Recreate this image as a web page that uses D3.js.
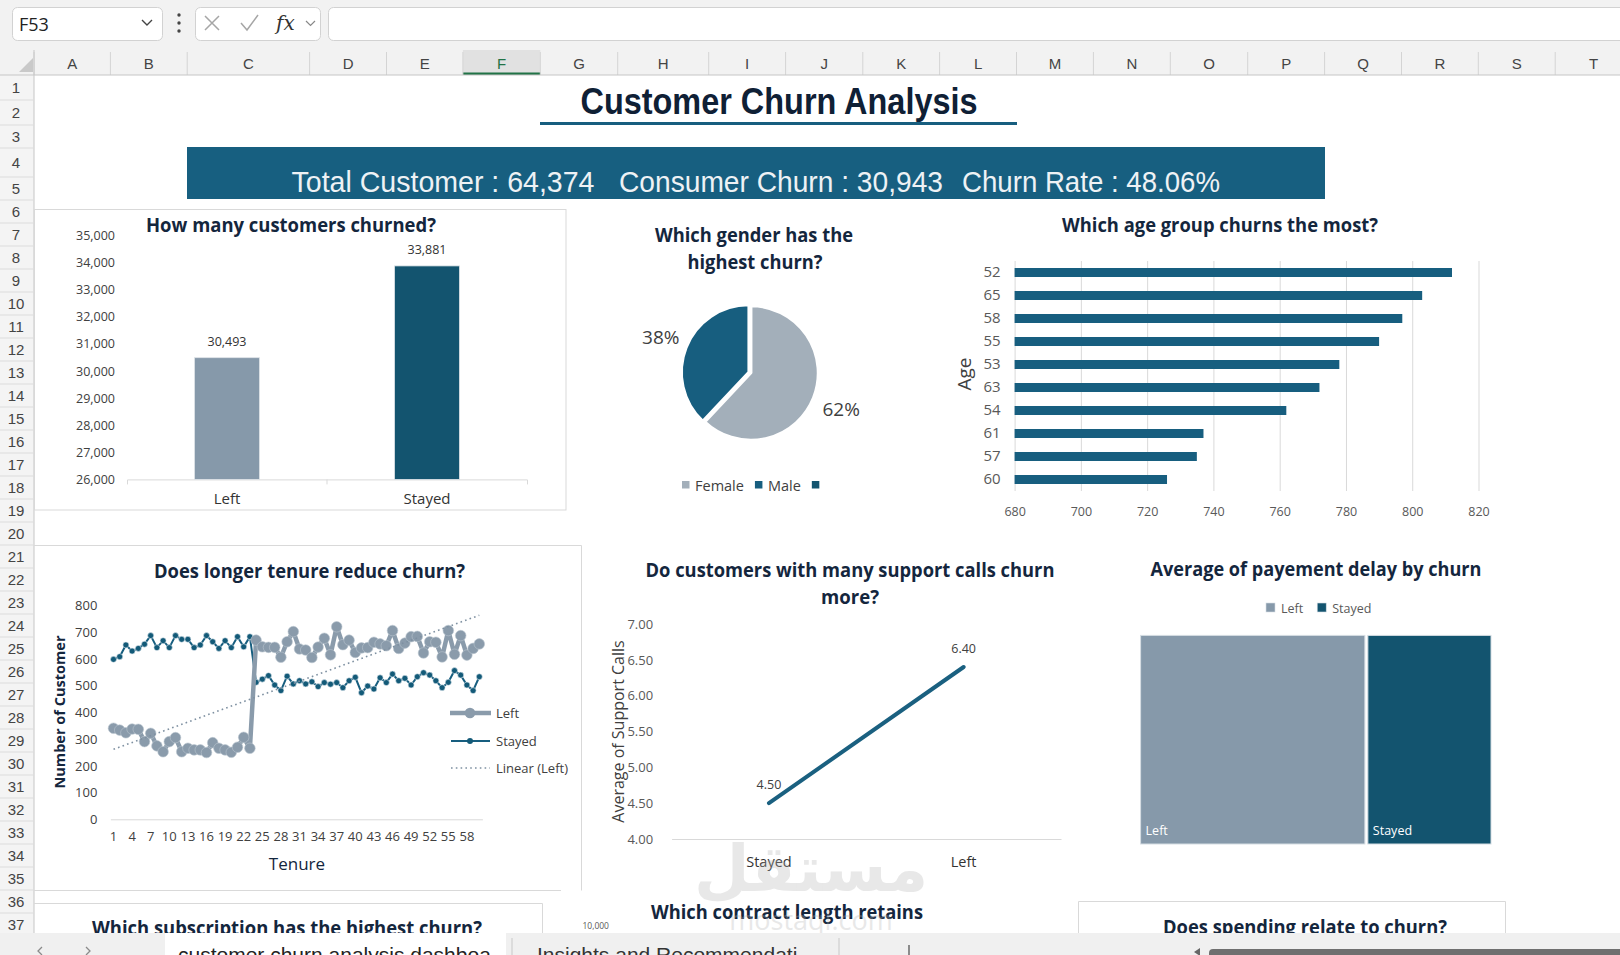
<!DOCTYPE html>
<html>
<head>
<meta charset="utf-8">
<script src="https://cdn.jsdelivr.net/npm/d3@7"></script>
<style>
  body { margin: 0; background: #fff; overflow: hidden; }
  svg { display: block; }
</style>
</head>
<body>
<svg id="sheet" width="1620" height="955"></svg>
<script>
// ---- data ----
const columnLetters = ["A","B","C","D","E","F","G","H","I","J","K","L","M","N","O","P","Q","R","S","T"];
const kpiLabels = ["Total Customer", "Consumer Churn", "Churn Rate"];
const kpiValues = ["64,374", "30,943", "48.06%"];

const churnCats = ["Left", "Stayed"];
const churnCounts = [30493, 33881];
const churnTicks = [26000, 27000, 28000, 29000, 30000, 31000, 32000, 33000, 34000, 35000];

const genderCats = ["Female", "Male", ""];
const genderShares = [62, 38, 0];

const ageGroups = ["52", "65", "58", "55", "53", "63", "54", "61", "57", "60"];
const ageChurn = [812, 803, 797, 790, 778, 772, 762, 737, 735, 726];
const ageTicks = [680, 700, 720, 740, 760, 780, 800, 820];

const tenure = [1,2,3,4,5,6,7,8,9,10,11,12,13,14,15,16,17,18,19,20,21,22,23,24,25,26,27,28,29,30,
  31,32,33,34,35,36,37,38,39,40,41,42,43,44,45,46,47,48,49,50,51,52,53,54,55,56,57,58,59,60];
const tenureTicks = [1,4,7,10,13,16,19,22,25,28,31,34,37,40,43,46,49,52,55,58];
const tenureCountTicks = [0,100,200,300,400,500,600,700,800];
const tenureLeft = [341,334,324,338,337,291,322,275,253,291,306,253,266,260,260,250,287,266,260,251,
  270,307,266,671,646,644,644,607,665,703,638,634,606,645,678,616,721,654,671,625,
  642,643,663,657,650,707,640,660,684,685,623,665,663,608,707,618,688,615,640,657];
const tenureStayed = [599,609,653,630,640,656,688,643,669,643,688,674,674,643,653,688,665,640,669,643,
  684,646,684,513,525,538,503,482,536,507,519,507,515,497,512,506,512,493,519,532,
  474,499,488,530,512,544,519,528,503,534,549,540,519,493,513,557,540,503,482,534];

const supportCats = ["Stayed", "Left"];
const supportCalls = [4.50, 6.40];
const supportTicks = [4.0, 4.5, 5.0, 5.5, 6.0, 6.5, 7.0];

const delayCats = ["Left", "Stayed"];
const delayAvg = [20.9, 11.6];

// ---- look ----
const navy = "#14263d";
const gray = "#8699aa";
const teal = "#175e7f";
const darkTeal = "#13546f";
const chartFont = '"Open Sans", sans-serif';
const narrowFont = '"Liberation Sans Narrow", "Liberation Sans", sans-serif';

const svg = d3.select("#sheet");
svg.append("rect").attr("width", 1620).attr("height", 955).attr("fill", "#fff");

function title(g, txt, cx, cy, len) {
  g.append("text")
    .attr("x", cx).attr("y", cy)
    .attr("text-anchor", "middle").attr("dominant-baseline", "central")
    .attr("font-family", chartFont).attr("font-weight", 700).attr("font-size", 19)
    .attr("fill", navy)
    .attr("textLength", len).attr("lengthAdjust", "spacingAndGlyphs")
    .text(txt);
}
function styleAxis(g, size, color) {
  g.attr("font-family", chartFont).attr("font-size", size);
  g.selectAll("text").attr("fill", color);
}

// ---- excel chrome: formula bar, headers ----
const colEdges = [34,110.4,187.2,309.6,386.5,462.9,540.3,617.7,708.7,785.6,862.8,939.6,1016.5,
  1093.4,1170.3,1247.7,1324.6,1401.5,1478.3,1555.2,1632];
const rowTops = [];
let ry = 75;
for (let i = 0; i < 38; i++) { rowTops.push(ry); ry += [25,25,23,29,23][i] || 23; }

const chrome = svg.append("g");
chrome.append("rect").attr("width", 1620).attr("height", 75).attr("fill", "#f2f2f2");
chrome.append("rect").attr("y", 75).attr("width", 34).attr("height", 880).attr("fill", "#f4f4f4");

// name box
chrome.append("rect").attr("x", 12.5).attr("y", 7.5).attr("width", 150).attr("height", 33).attr("rx", 5)
  .attr("fill", "#fff").attr("stroke", "#d2d2d2");
chrome.append("text").attr("x", 19).attr("y", 31).attr("font-family", '"Open Sans", sans-serif')
  .attr("font-size", 18).attr("fill", "#222").text("F53");
chrome.append("path").attr("d", "M142,20 l5,5 l5,-5").attr("fill", "none").attr("stroke", "#444").attr("stroke-width", 1.4);
[15, 23, 31].forEach(cy => chrome.append("circle").attr("cx", 179).attr("cy", cy).attr("r", 1.7).attr("fill", "#444"));
// cancel / enter / fx
chrome.append("rect").attr("x", 195.5).attr("y", 7.5).attr("width", 125).attr("height", 33).attr("rx", 5)
  .attr("fill", "#fff").attr("stroke", "#d2d2d2");
chrome.append("path").attr("d", "M205,16 L219,30 M219,16 L205,30").attr("stroke", "#a6a6a6").attr("stroke-width", 1.5);
chrome.append("path").attr("d", "M241,23 L247,30 L258,15").attr("fill", "none").attr("stroke", "#a6a6a6").attr("stroke-width", 1.5);
chrome.append("text").attr("x", 276).attr("y", 30).attr("font-family", '"DejaVu Serif", serif')
  .attr("font-style", "italic").attr("font-size", 20).attr("fill", "#333").text("fx");
chrome.append("path").attr("d", "M306,21 l4.5,4.5 l4.5,-4.5").attr("fill", "none").attr("stroke", "#888").attr("stroke-width", 1.2);
chrome.append("rect").attr("x", 328.5).attr("y", 7.5).attr("width", 1320).attr("height", 33).attr("rx", 5)
  .attr("fill", "#fff").attr("stroke", "#d2d2d2");

// column headers
chrome.append("rect").attr("x", colEdges[5]).attr("y", 50).attr("width", colEdges[6] - colEdges[5]).attr("height", 25)
  .attr("fill", "#e1e1e1");
chrome.append("rect").attr("x", colEdges[5]).attr("y", 72.5).attr("width", colEdges[6] - colEdges[5]).attr("height", 2.5)
  .attr("fill", "#217346");
chrome.append("path").attr("d", "M33,58 L33,72 L19,72 Z").attr("fill", "#c9c9c9");
columnLetters.forEach((c, i) => {
  chrome.append("line").attr("x1", colEdges[i]).attr("x2", colEdges[i]).attr("y1", 52).attr("y2", 75)
    .attr("stroke", "#d4d4d4");
  chrome.append("text").attr("x", (colEdges[i] + colEdges[i + 1]) / 2).attr("y", 63)
    .attr("text-anchor", "middle").attr("dominant-baseline", "central")
    .attr("font-family", narrowFont).attr("font-size", 15)
    .attr("fill", i === 5 ? "#217346" : "#444").text(c);
});
chrome.append("line").attr("x1", 0).attr("x2", 1620).attr("y1", 75).attr("y2", 75).attr("stroke", "#c6c6c6");
chrome.append("line").attr("x1", 34).attr("x2", 34).attr("y1", 50).attr("y2", 955).attr("stroke", "#c6c6c6");
// row headers
for (let r = 0; r < 37; r++) {
  chrome.append("line").attr("x1", 0).attr("x2", 34).attr("y1", rowTops[r + 1]).attr("y2", rowTops[r + 1])
    .attr("stroke", "#dcdcdc");
  chrome.append("text").attr("x", 16).attr("y", (rowTops[r] + rowTops[r + 1]) / 2)
    .attr("text-anchor", "middle").attr("dominant-baseline", "central")
    .attr("font-family", narrowFont).attr("font-size", 15).attr("fill", "#444").text(r + 1);
}

// ---- heading + KPI banner ----
const head = svg.append("g");
head.append("text").attr("x", 779).attr("y", 101)
  .attr("text-anchor", "middle").attr("dominant-baseline", "central")
  .attr("font-family", narrowFont).attr("font-weight", 700).attr("font-size", 37).attr("fill", "#0f2035")
  .attr("textLength", 397).attr("lengthAdjust", "spacingAndGlyphs")
  .text("Customer Churn Analysis");
head.append("rect").attr("x", 540).attr("y", 122).attr("width", 477).attr("height", 3).attr("fill", teal);
head.append("rect").attr("x", 187).attr("y", 147).attr("width", 1138).attr("height", 52).attr("fill", "#175f80");
const kpiX = [291.5, 619, 962];
const kpiW = [303, 324, 258];
kpiLabels.forEach((k, i) => {
  head.append("text").attr("x", kpiX[i]).attr("y", 181)
    .attr("dominant-baseline", "central")
    .attr("font-family", narrowFont).attr("font-size", 30).attr("fill", "#eef2f5")
    .attr("textLength", kpiW[i]).attr("lengthAdjust", "spacingAndGlyphs")
    .text(k + " : " + kpiValues[i]);
});

// ---- chart 1: how many customers churned ----
const g1 = svg.append("g");
g1.append("rect").attr("x", 34.5).attr("y", 209.5).attr("width", 531.5).attr("height", 300.5)
  .attr("fill", "#fff").attr("stroke", "#d9d9d9");
title(g1, "How many customers churned?", 291, 225, 290);
const x1 = d3.scaleBand().domain(churnCats).range([127, 527]);
const y1 = d3.scaleLinear().domain([26000, 35000]).range([479.4, 235.6]);
const ax1 = g1.append("g").attr("transform", "translate(127,0)")
  .call(d3.axisLeft(y1).tickValues(churnTicks).tickFormat(d3.format(",")).tickSize(0).tickPadding(12));
ax1.select(".domain").remove();
styleAxis(ax1, 12.5, "#404040");
const bx1 = g1.append("g").attr("transform", "translate(0,479.4)")
  .call(d3.axisBottom(x1).tickSizeInner(0).tickSizeOuter(5).tickPadding(14));
bx1.select(".domain").attr("stroke", "#d9d9d9");
styleAxis(bx1, 15, "#333");
g1.append("line").attr("x1", x1("Stayed")).attr("x2", x1("Stayed")).attr("y1", 479.4).attr("y2", 484.4)
  .attr("stroke", "#d9d9d9");
g1.selectAll(".bar1").data(churnCats).join("rect")
  .attr("x", d => x1(d) + x1.bandwidth() * 0.3375)
  .attr("width", x1.bandwidth() * 0.325)
  .attr("y", (d, i) => y1(churnCounts[i]))
  .attr("height", (d, i) => y1(26000) - y1(churnCounts[i]))
  .attr("fill", (d, i) => [gray, darkTeal][i])
  .attr("stroke", "#dfe4e8").attr("stroke-width", 0.8);
g1.selectAll(".lab1").data(churnCats).join("text")
  .attr("x", d => x1(d) + x1.bandwidth() / 2)
  .attr("y", (d, i) => y1(churnCounts[i]) - 16)
  .attr("text-anchor", "middle").attr("dominant-baseline", "central")
  .attr("font-family", chartFont).attr("font-size", 12.5).attr("fill", "#333")
  .text((d, i) => d3.format(",")(churnCounts[i]));

// ---- chart 2: gender pie ----
const g2 = svg.append("g");
title(g2, "Which gender has the", 754, 234.5, 198);
title(g2, "highest churn?", 755, 261.5, 135);
const pie = d3.pie().sort(null)(genderShares);
const arc = d3.arc().innerRadius(0).outerRadius(67);
const labelArc = d3.arc().innerRadius(97).outerRadius(97);
const pieG = g2.append("g").attr("transform", "translate(751,373)");
pieG.selectAll("path").data(pie).join("path")
  .attr("d", arc)
  .attr("transform", (d, i) => {
    if (i !== 1) return null;
    const c = arc.centroid(d), n = Math.hypot(c[0], c[1]);
    return `translate(${c[0] / n * 2.5},${c[1] / n * 2.5})`;
  })
  .attr("fill", (d, i) => ["#a3afba", teal, darkTeal][i])
  .attr("stroke", "#fff").attr("stroke-width", 2.5);
pieG.selectAll("text").data(pie.filter(d => d.value > 0)).join("text")
  .attr("x", d => labelArc.centroid(d)[0]).attr("y", d => labelArc.centroid(d)[1])
  .attr("text-anchor", "middle").attr("dominant-baseline", "central")
  .attr("font-family", chartFont).attr("font-size", 19).attr("fill", "#404040")
  .text(d => d.value + "%");
let lx = 682;
genderCats.forEach((c, i) => {
  g2.append("rect").attr("x", lx).attr("y", 481).attr("width", 7.5).attr("height", 7.5)
    .attr("fill", ["#a3afba", teal, darkTeal][i]);
  lx += 13;
  if (c) {
    const t = g2.append("text").attr("x", lx).attr("y", 485)
      .attr("dominant-baseline", "central").attr("font-family", chartFont).attr("font-size", 14.5)
      .attr("fill", "#404040").text(c);
    lx += t.node().getComputedTextLength() + 11;
  }
});

// ---- chart 3: age groups ----
const g3 = svg.append("g");
title(g3, "Which age group churns the most?", 1220, 225, 316);
const xA = d3.scaleLinear().domain([680, 820]).range([1014.6, 1478.5]);
const yA = d3.scaleBand().domain(ageGroups).range([261, 491]);
const gA = g3.append("g").attr("transform", "translate(0,491)")
  .call(d3.axisBottom(xA).tickValues(ageTicks).tickSize(-230));
gA.select(".domain").remove();
gA.selectAll("line").attr("stroke", "#d9d9d9");
styleAxis(gA, 12.5, "#595959");
gA.selectAll("text").attr("y", 20.5).attr("dy", "0.35em");
g3.selectAll(".bar3").data(ageGroups).join("rect")
  .attr("x", xA(680))
  .attr("y", d => yA(d) + (yA.bandwidth() - 9) / 2)
  .attr("width", (d, i) => xA(ageChurn[i]) - xA(680))
  .attr("height", 9)
  .attr("fill", teal);
const lA = g3.append("g").attr("transform", `translate(${xA(680)},0)`)
  .call(d3.axisLeft(yA).tickSize(0).tickPadding(14));
lA.select(".domain").remove();
styleAxis(lA, 15, "#595959");
g3.append("text").attr("transform", "translate(964,374) rotate(-90)")
  .attr("text-anchor", "middle").attr("dominant-baseline", "central")
  .attr("font-family", chartFont).attr("font-size", 19).attr("fill", "#404040").text("Age");

// ---- chart 4: tenure ----
const g4 = svg.append("g");
g4.append("path").attr("d", "M34,545.5 H581.5 V890.5 M34,890.5 H561").attr("fill", "none").attr("stroke", "#d9d9d9");
title(g4, "Does longer tenure reduce churn?", 309.5, 571, 311);
const xT = d3.scaleBand().domain(tenure).range([110.4, 482.4]);
const cx = t => xT(t) + xT.bandwidth() / 2;
const yT = d3.scaleLinear().domain([0, 800]).range([819.3, 605.7]);
const lT = g4.append("g").attr("transform", "translate(110.4,0)")
  .call(d3.axisLeft(yT).tickValues(tenureCountTicks).tickSize(0).tickPadding(13));
lT.select(".domain").remove();
styleAxis(lT, 13, "#404040");
const bT = g4.append("g").attr("transform", "translate(0,819.3)")
  .call(d3.axisBottom(xT).tickValues(tenureTicks).tickSize(0).tickPadding(12.5));
bT.select(".domain").attr("stroke", "#d9d9d9");
styleAxis(bT, 13, "#404040");

const lineT = d3.line().x((d, i) => cx(tenure[i])).y(d => yT(d));
g4.append("path").datum(tenureStayed).attr("d", lineT)
  .attr("fill", "none").attr("stroke", teal).attr("stroke-width", 2);
g4.selectAll(".ms").data(tenureStayed).join("circle")
  .attr("cx", (d, i) => cx(tenure[i])).attr("cy", d => yT(d)).attr("r", 3)
  .attr("fill", "#135a78").attr("stroke", "#dfe8ee").attr("stroke-width", 0.6);
g4.append("path").datum(tenureLeft).attr("d", lineT)
  .attr("fill", "none").attr("stroke", "#8a9bab").attr("stroke-width", 4.5).attr("stroke-linejoin", "round");
g4.selectAll(".ml").data(tenureLeft).join("circle")
  .attr("cx", (d, i) => cx(tenure[i])).attr("cy", d => yT(d)).attr("r", 5.3)
  .attr("fill", "#8a9bab").attr("stroke", "#b8c4ce").attr("stroke-width", 0.6);

// linear trend of the Left series
const n = tenure.length;
const mx = d3.mean(tenure), my = d3.mean(tenureLeft);
const slope = d3.sum(tenure, (t, i) => (t - mx) * (tenureLeft[i] - my)) / d3.sum(tenure, t => (t - mx) * (t - mx));
const icpt = my - slope * mx;
g4.append("line")
  .attr("x1", cx(tenure[0])).attr("y1", yT(icpt + slope * tenure[0]))
  .attr("x2", cx(tenure[n - 1])).attr("y2", yT(icpt + slope * tenure[n - 1]))
  .attr("stroke", "#7e90a1").attr("stroke-width", 1.6).attr("stroke-dasharray", "1.6 3.2");

// legend
const legT = g4.append("g").attr("font-family", chartFont).attr("font-size", 13).attr("fill", "#404040");
legT.append("line").attr("x1", 450).attr("x2", 491).attr("y1", 713).attr("y2", 713).attr("stroke", "#8a9bab").attr("stroke-width", 4.5);
legT.append("circle").attr("cx", 470).attr("cy", 713).attr("r", 5.3).attr("fill", "#8a9bab");
legT.append("text").attr("x", 496).attr("y", 713).attr("dominant-baseline", "central").text("Left");
legT.append("line").attr("x1", 451).attr("x2", 490).attr("y1", 741).attr("y2", 741).attr("stroke", teal).attr("stroke-width", 2);
legT.append("circle").attr("cx", 470).attr("cy", 741).attr("r", 3).attr("fill", "#135a78");
legT.append("text").attr("x", 496).attr("y", 741).attr("dominant-baseline", "central").text("Stayed");
legT.append("line").attr("x1", 451).attr("x2", 490).attr("y1", 768).attr("y2", 768)
  .attr("stroke", "#7e90a1").attr("stroke-width", 1.6).attr("stroke-dasharray", "1.6 3.2");
legT.append("text").attr("x", 496).attr("y", 768).attr("dominant-baseline", "central").text("Linear (Left)");
g4.append("text").attr("transform", "translate(59,712) rotate(-90)")
  .attr("text-anchor", "middle").attr("dominant-baseline", "central")
  .attr("font-family", chartFont).attr("font-weight", 700).attr("font-size", 15).attr("fill", navy)
  .attr("textLength", 153).attr("lengthAdjust", "spacingAndGlyphs").text("Number of Customer");
g4.append("text").attr("x", 297).attr("y", 863)
  .attr("text-anchor", "middle").attr("dominant-baseline", "central")
  .attr("font-family", chartFont).attr("font-size", 17).attr("fill", navy).text("Tenure");

// ---- chart 5: support calls ----
const g5 = svg.append("g");
title(g5, "Do customers with many support calls churn", 850, 570, 409);
title(g5, "more?", 850, 597, 58);
const xS = d3.scaleBand().domain(supportCats).range([671.6, 1061]);
const yS = d3.scaleLinear().domain([4, 7]).range([839, 624]);
const lS = g5.append("g").attr("transform", "translate(671.6,0)")
  .call(d3.axisLeft(yS).tickValues(supportTicks).tickFormat(d3.format(".2f")).tickSize(0).tickPadding(18.5));
lS.select(".domain").remove();
styleAxis(lS, 13, "#595959");
const bS = g5.append("g").attr("transform", "translate(0,839)")
  .call(d3.axisBottom(xS).tickSize(0).tickPadding(18));
bS.select(".domain").attr("stroke", "#d9d9d9");
styleAxis(bS, 14.5, "#333");
g5.append("path").datum(supportCalls)
  .attr("d", d3.line().x((d, i) => xS(supportCats[i]) + xS.bandwidth() / 2).y(d => yS(d)))
  .attr("fill", "none").attr("stroke", "#1a6080").attr("stroke-width", 4).attr("stroke-linecap", "round");
g5.selectAll(".lab5").data(supportCalls).join("text")
  .attr("x", (d, i) => xS(supportCats[i]) + xS.bandwidth() / 2)
  .attr("y", d => yS(d) - 19)
  .attr("text-anchor", "middle").attr("dominant-baseline", "central")
  .attr("font-family", chartFont).attr("font-size", 12.5).attr("fill", "#404040")
  .text(d => d3.format(".2f")(d));
g5.append("text").attr("transform", "translate(618,731.5) rotate(-90)")
  .attr("text-anchor", "middle").attr("dominant-baseline", "central")
  .attr("font-family", chartFont).attr("font-size", 16).attr("fill", "#404040")
  .text("Average of Support Calls");

// ---- chart 6: payment delay treemap ----
const g6 = svg.append("g");
title(g6, "Average of payement delay by churn", 1316, 569, 331);
const root = d3.hierarchy({ children: delayCats.map((c, i) => ({ name: c, value: delayAvg[i] })) })
  .sum(d => d.value || 0);
d3.treemap().tile(d3.treemapDice).size([350.4, 208.6]).paddingInner(3)(root);
const tm = g6.append("g").attr("transform", "translate(1140.6,635.4)");
const leaves = tm.selectAll("g").data(root.leaves()).join("g")
  .attr("transform", d => `translate(${d.x0},${d.y0})`);
leaves.append("rect")
  .attr("width", d => d.x1 - d.x0).attr("height", d => d.y1 - d.y0)
  .attr("fill", (d, i) => [gray, darkTeal][i]).attr("stroke", "#d5dde3").attr("stroke-width", 1);
leaves.append("text").attr("x", 5).attr("y", d => d.y1 - d.y0 - 13)
  .attr("dominant-baseline", "central").attr("font-family", chartFont).attr("font-size", 12.5)
  .attr("fill", "#fff").text(d => d.data.name);
let dx = 1266;
delayCats.forEach((c, i) => {
  g6.append("rect").attr("x", dx).attr("y", 603).attr("width", 9).attr("height", 9)
    .attr("fill", [gray, darkTeal][i]).attr("stroke", "#d5dde3").attr("stroke-width", 0.6);
  const t = g6.append("text").attr("x", dx + 15).attr("y", 608).attr("dominant-baseline", "central")
    .attr("font-family", chartFont).attr("font-size", 12.5).attr("fill", "#595959").text(c);
  dx += 15 + t.node().getComputedTextLength() + 14;
});

// ---- next row of charts (cut off by the sheet tabs) ----
const g7 = svg.append("g");
g7.append("path").attr("d", "M34,903.5 H542.5 V955").attr("fill", "none").attr("stroke", "#d9d9d9");
g7.append("path").attr("d", "M1078.5,955 V901.5 H1505.5 V955").attr("fill", "none").attr("stroke", "#d9d9d9");
title(g7, "Which subscription has the highest churn?", 287, 928, 390);
title(g7, "Which contract length retains", 787, 912, 272);
title(g7, "Does spending relate to churn?", 1305, 927, 284);
g7.append("text").attr("x", 609).attr("y", 925).attr("text-anchor", "end").attr("dominant-baseline", "central")
  .attr("font-family", chartFont).attr("font-size", 8.5).attr("fill", "#595959").text("10,000");

// watermark of the source site
const wm = svg.append("g").attr("opacity", 0.3).attr("fill", "#b4b4b4").attr("text-anchor", "middle");
wm.append("text").attr("x", 811).attr("y", 891).attr("font-family", '"DejaVu Sans", sans-serif')
  .attr("font-weight", 700).attr("font-size", 64).text("مستقل");
wm.append("text").attr("x", 811).attr("y", 930).attr("font-family", chartFont)
  .attr("font-size", 27).text("mostaql.com");

// ---- sheet tab bar ----
const tabs = svg.append("g");
tabs.append("rect").attr("y", 933).attr("width", 1620).attr("height", 22).attr("fill", "#f0f0f0");
tabs.append("rect").attr("x", 165).attr("y", 933).attr("width", 341).attr("height", 22).attr("fill", "#fff");
tabs.append("path").attr("d", "M42,947 l-4,4 l4,4 M86,947 l4,4 l-4,4").attr("fill", "none")
  .attr("stroke", "#8a8a8a").attr("stroke-width", 1.3);
tabs.append("text").attr("x", 178).attr("y", 962).attr("font-family", narrowFont).attr("font-size", 21)
  .attr("fill", "#222").text("customer churn analysis dashboa");
tabs.append("line").attr("x1", 512).attr("x2", 512).attr("y1", 938).attr("y2", 955).attr("stroke", "#c8c8c8");
tabs.append("text").attr("x", 537).attr("y", 962).attr("font-family", narrowFont).attr("font-size", 21)
  .attr("fill", "#333").text("Insights and Recommendati");
tabs.append("line").attr("x1", 839).attr("x2", 839).attr("y1", 938).attr("y2", 955).attr("stroke", "#c8c8c8");
tabs.append("line").attr("x1", 909).attr("x2", 909).attr("y1", 945).attr("y2", 955).attr("stroke", "#555").attr("stroke-width", 1.3);
tabs.append("path").attr("d", "M1194,952 l6,-4 v8 z").attr("fill", "#666");
tabs.append("rect").attr("x", 1209).attr("y", 949).attr("width", 420).attr("height", 12).attr("rx", 4).attr("fill", "#6f6f6f");
</script>
</body>
</html>
